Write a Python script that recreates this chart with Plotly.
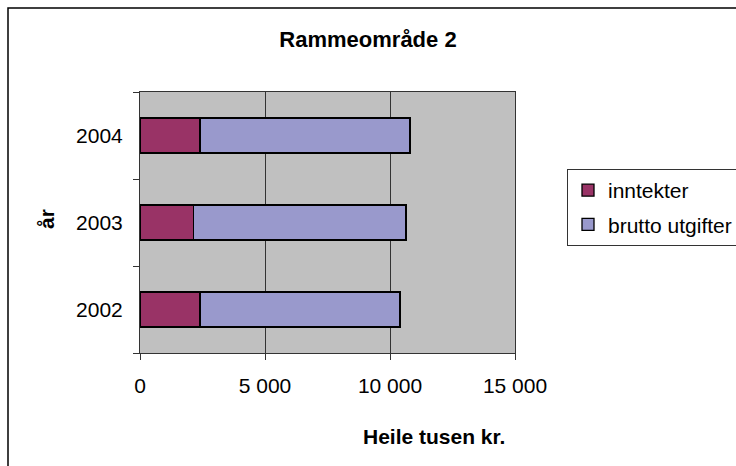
import plotly.graph_objects as go

# ---- data ----
years = ["2002", "2003", "2004"]
inntekter = [2400, 2130, 2400]
brutto_utgifter = [8000, 8510, 8400]
x_ticks = [0, 5000, 10000, 15000]

W, H = 736, 466
L, R, T, B = 140, 515, 92, 353  # plot area bounds in pixels


def px(x):
    return (x - L) / (R - L)


def py(y):
    return (B - y) / (B - T)


FONT = "Arial, Liberation Sans, sans-serif"
LINE = "#333333"

fig = go.Figure()
fig.add_trace(go.Bar(
    y=years, x=inntekter, name="inntekter", orientation="h",
    marker=dict(color="#993366", line=dict(color="black", width=1.3)),
    legendgroup="a",
))
fig.add_trace(go.Bar(
    y=years, x=brutto_utgifter, name="brutto utgifter", orientation="h",
    marker=dict(color="#9999CC", line=dict(color="black", width=1.3)),
    legendgroup="b",
))

fig.update_layout(
    width=W, height=H,
    margin=dict(l=L, r=W - R, t=T, b=H - B, pad=0, autoexpand=False),
    barmode="stack", bargap=0.6,
    paper_bgcolor="white", plot_bgcolor="#C0C0C0",
    font=dict(family=FONT, size=21, color="black"),
    separators=", ",
    showlegend=True,
    title=dict(text="<b>Rammeområde 2</b>", x=0.5, xanchor="center",
               y=1 - 39 / H, yanchor="middle", yref="container",
               font=dict(size=22, family=FONT, color="black")),
    legend=dict(x=567 / W, y=1 - 169 / H, xref="container", yref="container",
                xanchor="left", yanchor="top",
                bgcolor="white", bordercolor=LINE, borderwidth=1,
                font=dict(size=21, family=FONT), tracegroupgap=4,
                traceorder="grouped"),
    xaxis=dict(range=[0, 15000], tickvals=x_ticks, tickformat=",d",
               showgrid=True, gridcolor=LINE, gridwidth=1,
               showline=True, linecolor=LINE, linewidth=1, mirror=True,
               ticks="outside", ticklen=6, tickcolor=LINE,
               ticklabelstandoff=8, zeroline=False, fixedrange=True),
    yaxis=dict(type="category", categoryorder="array", categoryarray=years,
               tickson="boundaries", ticks="outside", ticklen=6, tickcolor=LINE,
               showgrid=False, showline=True, linecolor=LINE, linewidth=1,
               mirror=True, ticklabelstandoff=12, fixedrange=True),
    shapes=[dict(type="rect", xref="paper", yref="paper",
                 x0=px(8), x1=px(760), y0=py(490), y1=py(8),
                 line=dict(color="black", width=1.5), fillcolor="rgba(0,0,0,0)",
                 layer="below")],
    annotations=[
        dict(text="<b>Heile tusen kr.</b>", x=px(434), y=py(436),
             xref="paper", yref="paper", showarrow=False,
             xanchor="center", yanchor="middle",
             font=dict(size=21, family=FONT, color="black")),
        dict(text="<b>år</b>", x=px(46), y=py(219),
             xref="paper", yref="paper", showarrow=False, textangle=-90,
             xanchor="center", yanchor="middle",
             font=dict(size=21, family=FONT, color="black")),
    ],
)

fig.write_html(
    "out.html",
    config={"displayModeBar": False},
    post_script="document.body.style.margin='0';document.body.style.overflow='hidden';",
)
